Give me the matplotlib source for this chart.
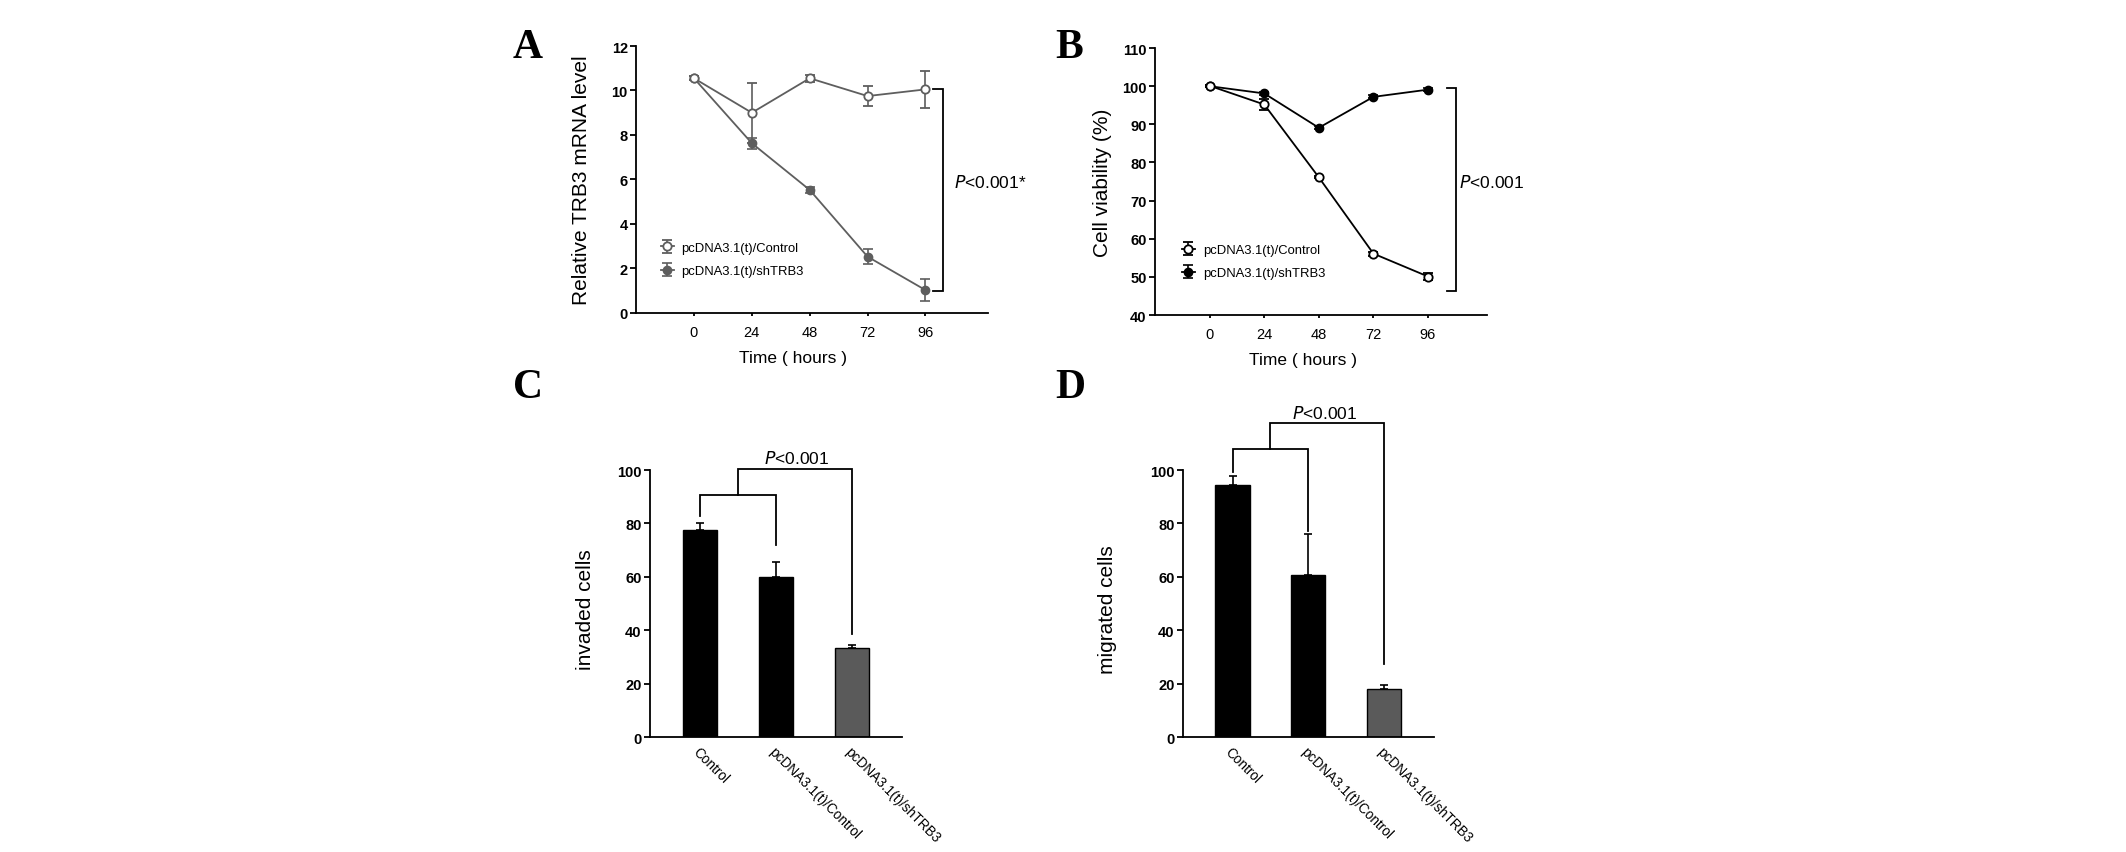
import matplotlib
matplotlib.use('Agg')
import matplotlib.pyplot as plt
import numpy as np

plt.rcParams['font.family'] = ['Liberation Sans', 'DejaVu Sans']

# data
hours = [0, 24, 48, 72, 96]
labels_lines = ['pcDNA3.1(t)/Control', 'pcDNA3.1(t)/shTRB3']

mrna_control = [10.55, 9.0, 10.55, 9.75, 10.05]
mrna_control_err = [0.1, 1.35, 0.15, 0.45, 0.82]
mrna_sh = [10.55, 7.63, 5.53, 2.53, 1.03]
mrna_sh_err = [0.1, 0.24, 0.12, 0.33, 0.48]

via_control = [100.1, 95.2, 76.1, 56.1, 50.1]
via_control_err = [0.3, 1.4, 0.3, 0.5, 0.8]
via_sh = [100.0, 98.1, 89.1, 97.2, 99.1]
via_sh_err = [0.2, 0.3, 0.4, 0.4, 0.4]

bar_groups = ['Control', 'pcDNA3.1(t)/Control', 'pcDNA3.1(t)/shTRB3']
invaded = [77.5, 60.0, 33.2]
invaded_err = [2.5, 5.6, 1.3]
migrated = [94.5, 60.8, 18.1]
migrated_err = [3.4, 15.2, 1.4]

grey = '#5e5e5e'
bar_grey = '#5a5a5a'
lw = 1.3

fig = plt.figure(figsize=(21.26, 8.53), dpi=100)


def style_axes(ax):
    for s in ['top', 'right']:
        ax.spines[s].set_visible(False)
    for s in ['left', 'bottom']:
        ax.spines[s].set_linewidth(lw)
    ax.tick_params(axis='y', direction='out', length=4, width=lw, labelsize=10.5, pad=2)
    for t in ax.get_yticklabels():
        t.set_fontweight('bold')


def line_panel(ax, c1, e1, c2, e2, col, ylim, yticks, ylabel, br, ptext, leg_x):
    h1 = ax.errorbar(hours, c1, yerr=e1, color=col, marker='o', markersize=6,
                     markerfacecolor='white', markeredgecolor=col, markeredgewidth=1.3,
                     linewidth=1.3, capsize=3.6, capthick=1.2, elinewidth=1.2, zorder=4)
    h2 = ax.errorbar(hours, c2, yerr=e2, color=col, marker='o', markersize=6,
                     markerfacecolor=col, markeredgecolor=col,
                     linewidth=1.3, capsize=3.6, capthick=1.2, elinewidth=1.2, zorder=3)
    ax.set_xlim(-24, 122)
    ax.set_ylim(*ylim)
    ax.set_xticks(hours)
    ax.set_yticks(yticks)
    style_axes(ax)
    ax.tick_params(axis='x', direction='out', length=2.5, width=lw, labelsize=10.5, pad=6)
    ax.set_ylabel(ylabel, fontsize=15)
    ax.yaxis.set_label_coords(-0.129, 0.5)
    ax.set_xlabel('Time ( hours )', fontsize=12.5)
    ax.xaxis.set_label_coords(0.445, -0.14)
    # significance bracket
    xv, xt, ytop, ybot, tx, ty = br
    ax.plot([xt, xv, xv, xt], [ytop, ytop, ybot, ybot], color='black', lw=1.3,
            clip_on=False, solid_joinstyle='miter')
    ax.text(tx, ty, ptext, fontsize=12.5, va='center', ha='left')
    ax.legend([h1, h2], labels_lines, frameon=False, fontsize=9.4, loc='center left',
              bbox_to_anchor=(leg_x, 0.2), handlelength=1.0, handletextpad=0.6,
              labelspacing=0.85, borderaxespad=0)


axA = fig.add_axes([0.2992, 0.6319, 0.1656, 0.313])
line_panel(axA, mrna_control, mrna_control_err, mrna_sh, mrna_sh_err, grey,
           (0, 12), range(0, 13, 2), 'Relative TRB3 mRNA level',
           (103.4, 99.3, 10.08, 1.0, 107.8, 5.9), r'$\it{P}$<0.001*', 0.055)

axB = fig.add_axes([0.5433, 0.6295, 0.1562, 0.313])
line_panel(axB, via_control, via_control_err, via_sh, via_sh_err, 'black',
           (40, 110), range(40, 111, 10), 'Cell viability (%)',
           (108.4, 104.4, 99.4, 46.2, 109.8, 74.9), r'$\it{P}$<0.001', 0.065)


def bar_panel(ax, vals, errs, ylabel, inner, outer, ptxt_y, ylab_x, p_x):
    x = np.arange(len(bar_groups))
    cols = ['black', 'black', bar_grey]
    ax.bar(x, vals, width=0.45, color=cols, edgecolor='black', linewidth=1.0, zorder=2)
    ax.errorbar(x, vals, yerr=[np.zeros(len(vals)), errs], fmt='none', ecolor='black',
                elinewidth=1.2, capsize=2.8, capthick=1.2, zorder=1)
    ax.set_xlim(-0.655, 2.66)
    ax.set_ylim(0, 100)
    ax.set_yticks(range(0, 101, 20))
    ax.set_xticks(x)
    ax.set_xticklabels(bar_groups, rotation=-45, ha='left', va='top',
                       rotation_mode='anchor', fontsize=9.8)
    style_axes(ax)
    ax.tick_params(axis='x', length=0, pad=5)
    ax.set_ylabel(ylabel, fontsize=15)
    ax.yaxis.set_label_coords(ylab_x, 0.48)
    # inner bracket: Control vs pcDNA3.1(t)/Control
    yh, yl0, yl1 = inner
    ax.plot([0, 0, 1, 1], [yl0, yh, yh, yl1], color='black', lw=1.3, clip_on=False,
            solid_joinstyle='miter')
    # outer bracket: both controls vs shTRB3
    oh, or1 = outer
    ax.plot([0.5, 0.5, 2, 2], [yh, oh, oh, or1], color='black', lw=1.3, clip_on=False,
            solid_joinstyle='miter')
    ax.text(p_x, ptxt_y, r'$\it{P}$<0.001', fontsize=12.5, ha='center', va='center')


axC = fig.add_axes([0.3057, 0.1348, 0.1185, 0.313])
bar_panel(axC, invaded, invaded_err, 'invaded cells', (90.8, 82.9, 72.0), (100.4, 38.7),
          104.6, -0.218, 1.28)

axD = fig.add_axes([0.5564, 0.1348, 0.1181, 0.313])
bar_panel(axD, migrated, migrated_err, 'migrated cells', (107.9, 99.4, 77.2), (117.5, 27.5),
          121.5, -0.263, 1.22)

for letter, x, y in [('A', 0.2413, 0.932), ('B', 0.4962, 0.932),
                     ('C', 0.2413, 0.5334), ('D', 0.4962, 0.5334)]:
    fig.text(x, y, letter, fontsize=30, fontweight='bold', family='Liberation Serif',
             ha='left', va='baseline')

fig.savefig('out.png', dpi=100)
